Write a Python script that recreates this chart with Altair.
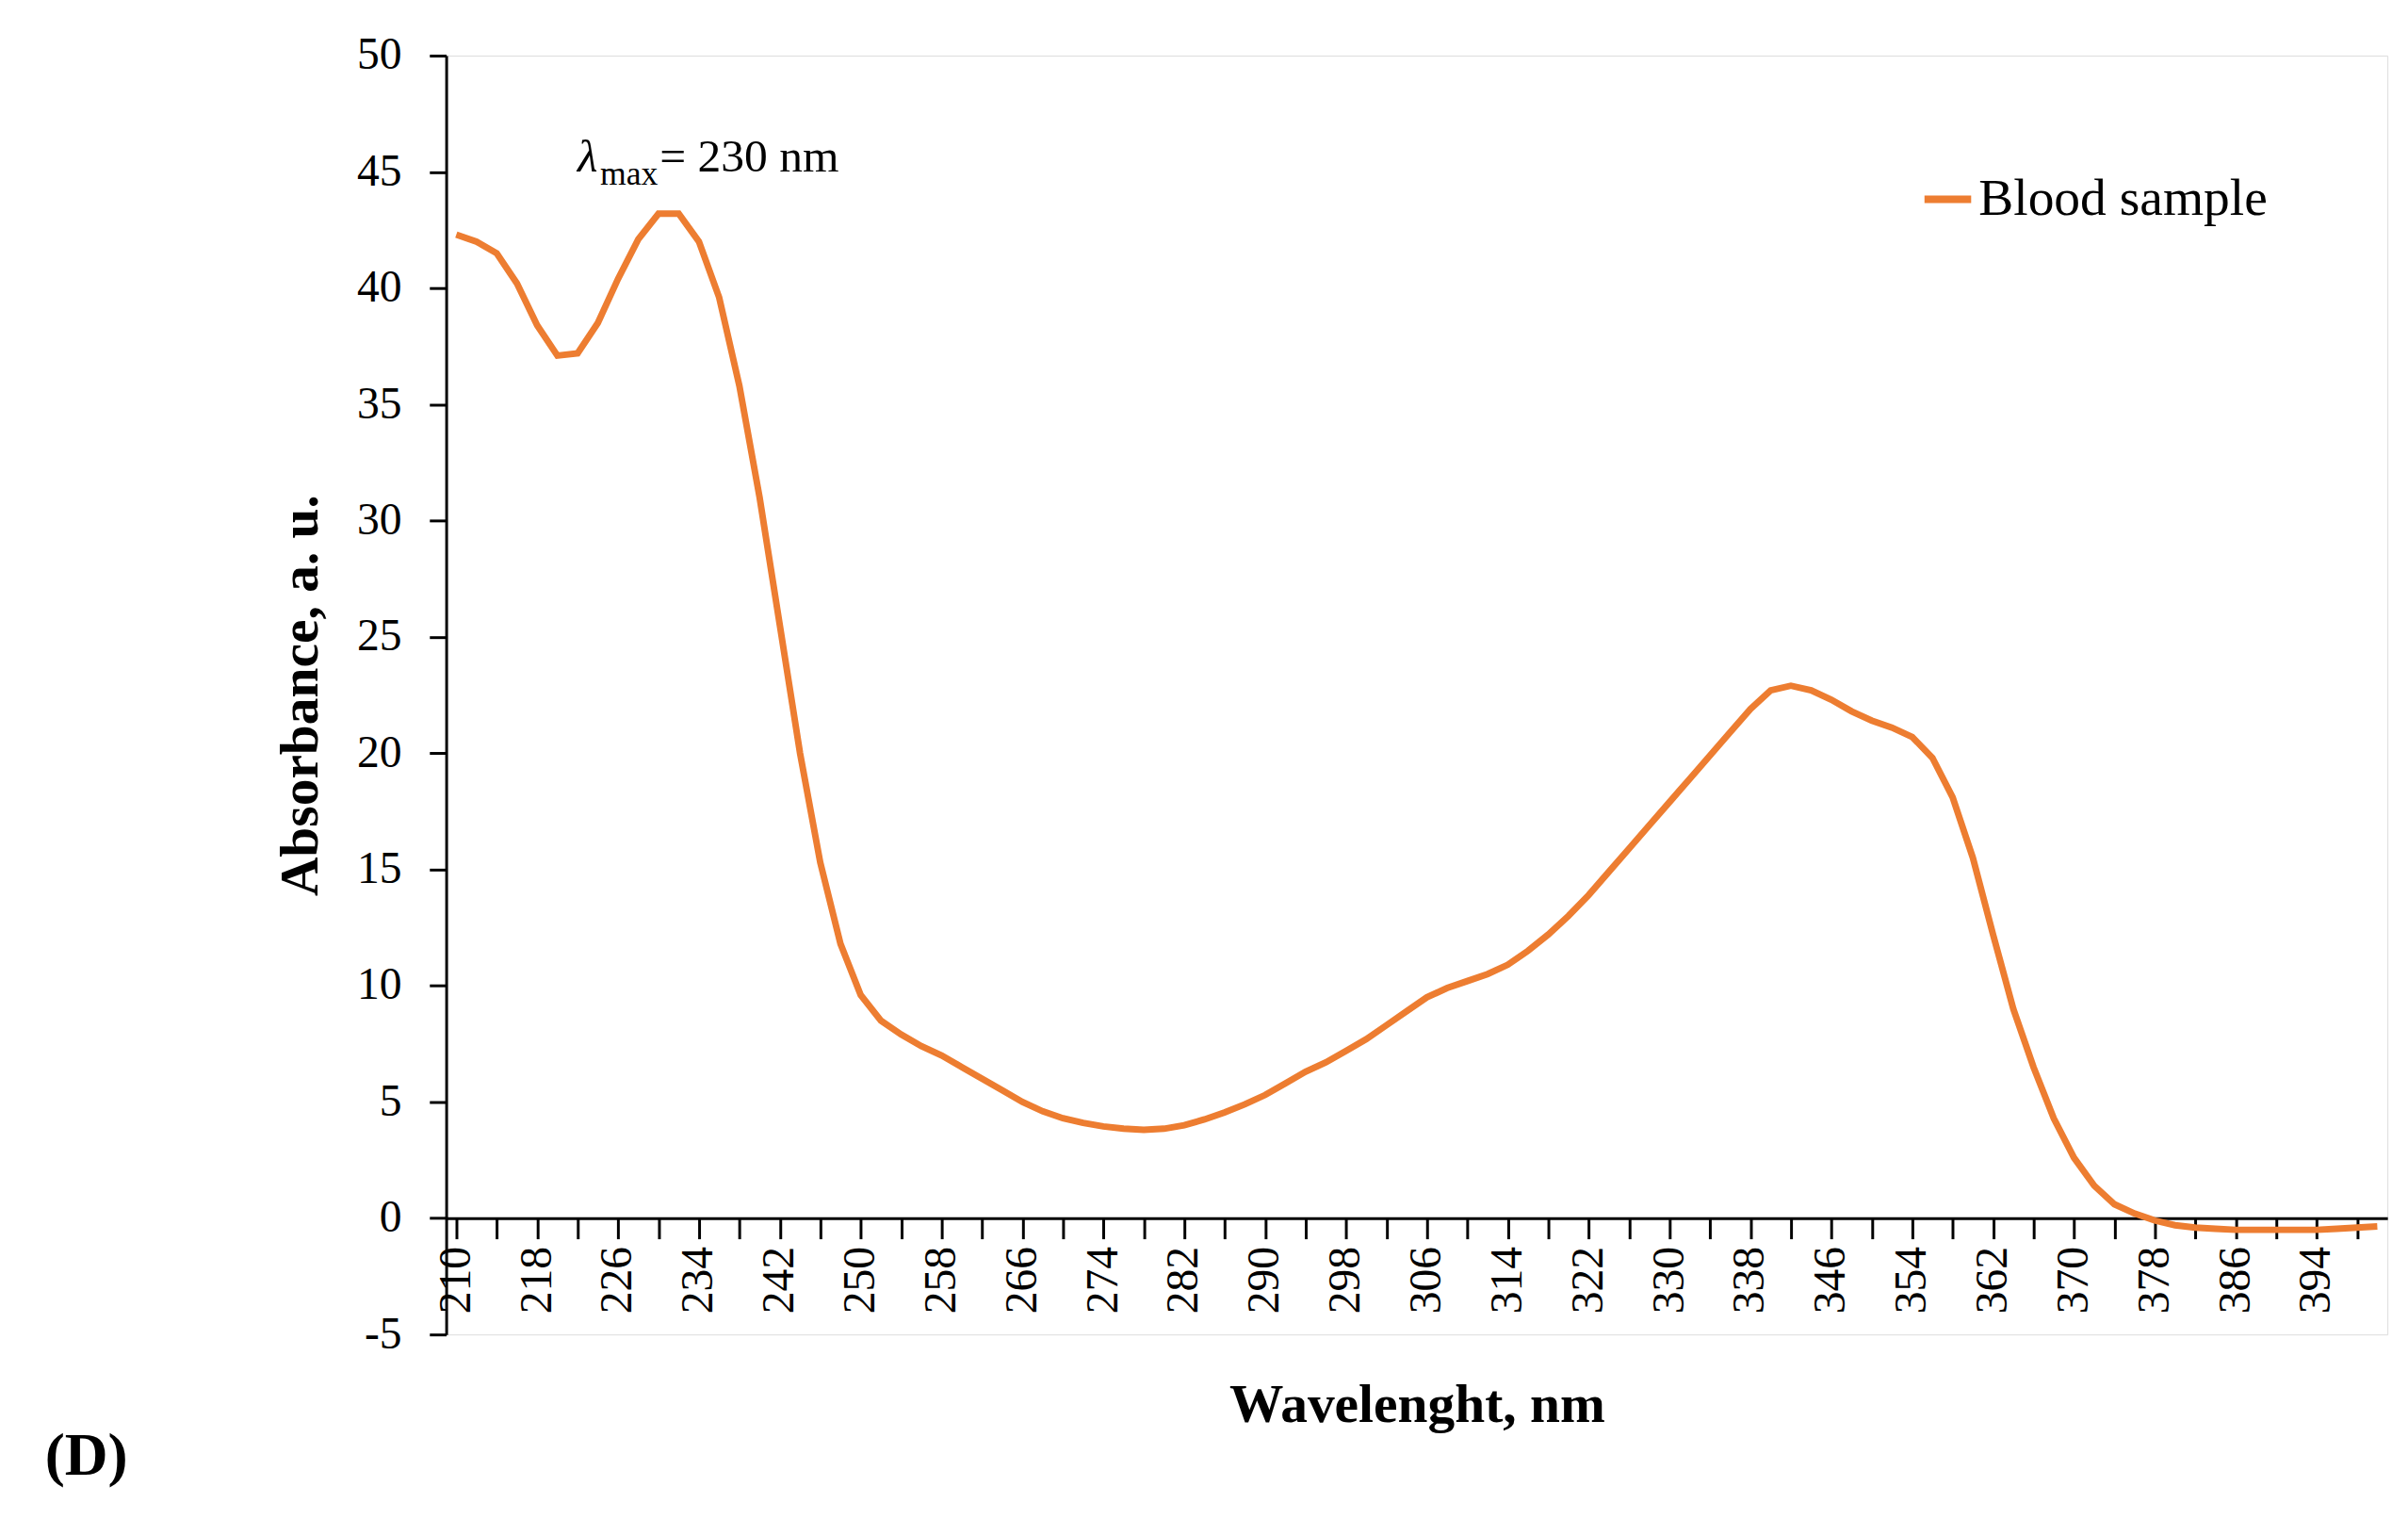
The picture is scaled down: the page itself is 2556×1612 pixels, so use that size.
import altair as alt
import pandas as pd

wavelength = list(range(210, 402, 2))
absorbance = [
    42.3, 42.0, 41.5, 40.2, 38.4, 37.1, 37.2, 38.5, 40.4, 42.1,
    43.2, 43.2, 42.0, 39.6, 35.8, 31.0, 25.5, 20.0, 15.3, 11.8,
    9.6, 8.5, 7.9, 7.4, 7.0, 6.5, 6.0, 5.5, 5.0, 4.6,
    4.3, 4.1, 3.95, 3.85, 3.8, 3.85, 4.0, 4.25, 4.55, 4.9,
    5.3, 5.8, 6.3, 6.7, 7.2, 7.7, 8.3, 8.9, 9.5, 9.9,
    10.2, 10.5, 10.9, 11.5, 12.2, 13.0, 13.9, 14.9, 15.9, 16.9,
    17.9, 18.9, 19.9, 20.9, 21.9, 22.7, 22.9, 22.7, 22.3, 21.8,
    21.4, 21.1, 20.7, 19.8, 18.1, 15.5, 12.2, 9.0, 6.5, 4.3,
    2.6, 1.4, 0.6, 0.2, -0.1, -0.3, -0.4, -0.45, -0.5, -0.5,
    -0.5, -0.5, -0.5, -0.45, -0.4, -0.35,
]
series = ["Blood sample"] * len(wavelength)

W, H = 2080, 1370
FONT = "Liberation Serif"

df = pd.DataFrame({"Wavelength": wavelength, "Absorbance": absorbance, "Series": series})

x_axis = alt.Axis(
    values=wavelength, labelExpr="(datum.value - 210) % 8 == 0 ? datum.label : ''",
    labelAngle=-90, labelAlign="right", labelBaseline="middle", labelPadding=8,
    offset=-H * 5 / 55, tickSize=22, tickWidth=3, domainWidth=3,
    domainColor="black", tickColor="black", grid=False,
    labelFontSize=48, labelFont=FONT, labelColor="black",
    title="Wavelenght, nm", titleFontSize=58, titleFont=FONT, titleFontWeight="bold",
    titleColor="black", titlePadding=70,
)
y_axis = alt.Axis(
    values=list(range(-5, 55, 5)), labelExpr="'' + datum.value",
    tickSize=18, tickWidth=3, domainWidth=3,
    domainColor="black", tickColor="black", grid=False,
    labelFontSize=48, labelFont=FONT, labelColor="black", labelPadding=30,
    title="Absorbance, a. u.", titleFontSize=58, titleFont=FONT, titleFontWeight="bold",
    titleColor="black", titlePadding=30,
)

line = alt.Chart(df).mark_line(strokeWidth=7).encode(
    x=alt.X("Wavelength:Q", scale=alt.Scale(domain=[209, 401], nice=False, zero=False), axis=x_axis),
    y=alt.Y("Absorbance:Q", scale=alt.Scale(domain=[-5, 50], nice=False), axis=y_axis),
    color=alt.Color("Series:N", scale=alt.Scale(range=["#ED7D31"]), legend=alt.Legend(
        title=None, orient="none", legendX=W - 500, legendY=125,
        symbolType="stroke", symbolStrokeWidth=8, symbolSize=2500,
        labelFontSize=56, labelFont=FONT, labelColor="black", labelLimit=600,
    )),
)

ann = pd.DataFrame({"x": [222.0], "y": [45.0]})
lam = alt.Chart(ann).mark_text(text="λ", fontSize=50, font=FONT, fontStyle="italic",
                               align="left", baseline="alphabetic").encode(x="x:Q", y="y:Q")
sub = alt.Chart(ann).mark_text(text="max", fontSize=36, font=FONT, dx=24, dy=14,
                               align="left", baseline="alphabetic").encode(x="x:Q", y="y:Q")
rest = alt.Chart(ann).mark_text(text="= 230 nm", fontSize=50, font=FONT, dx=88,
                                align="left", baseline="alphabetic").encode(x="x:Q", y="y:Q")
label_d = alt.Chart(ann).mark_text(text="(D)", fontSize=64, font=FONT, fontWeight="bold",
                                   align="left", baseline="alphabetic").encode(
    x=alt.value(-430), y=alt.value(H + 150))

chart = (line + lam + sub + rest + label_d).properties(
    width=W, height=H, padding={"left": 40, "top": 20, "right": 10, "bottom": 10}
).configure_view(strokeWidth=0).configure(background="white")

chart.save("out.html", embed_options={"renderer": "svg", "actions": False})
